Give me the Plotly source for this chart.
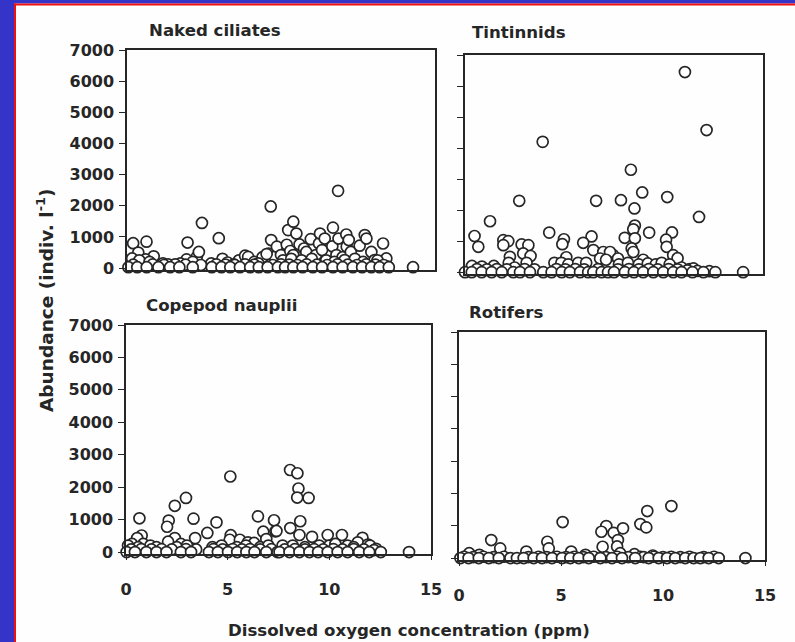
import plotly.graph_objects as go

# ---------------- data (dissolved oxygen ppm, abundance indiv. l-1) ----------------
panel_titles = ["Naked ciliates", "Tintinnids", "Copepod nauplii", "Rotifers"]
x_ticks = [0, 5, 10, 15]
y_ticks = [0, 1000, 2000, 3000, 4000, 5000, 6000, 7000]
x_axis_title = "Dissolved oxygen concentration (ppm)"
y_axis_title = "Abundance (indiv. l<sup>-1</sup>)"

naked_x = [0.3, 0.95, 0.55, 0.25, 1.3, 0.9, 1.75, 2.25, 2.95, 2.9, 3.4, 3.5, 3.65, 4.47, 4.65, 5.45, 5.75, 5.9,
           6.6, 6.9, 7.0, 7.02, 7.2, 6.8, 7.3, 7.5, 7.78, 7.85, 8.1, 8.25, 7.95, 8.1, 8.4, 8.62, 8.73, 8.95, 9.2,
           9.35, 9.4, 9.5, 9.63, 10.0, 10.03, 10.2, 10.28, 10.3, 10.5, 10.68, 10.7, 10.8, 10.9, 11.33, 11.58,
           11.66, 11.9, 12.06, 12.47, 12.63, 12.7, 13.93,
           0.6, 1.1, 2.0, 2.6, 3.2, 4.1, 4.9, 5.2, 6.2, 6.4, 7.6, 8.0, 8.5, 9.0, 9.7, 10.1, 10.6, 11.1, 11.5, 12.2,
           0.3, 1.25, 1.8, 2.35, 2.85, 3.6, 4.35, 4.8, 5.25, 5.75, 6.2, 7.1, 7.5, 7.9, 8.3, 8.75, 9.25, 9.75,
           10.25, 10.75, 11.2, 11.65, 12.1, 12.5,
           0.07, 0.5, 0.96, 1.53, 2.1, 2.55, 3.2, 4.13, 4.6, 5.03, 5.5, 6.0, 6.42, 6.85, 7.35, 7.7, 8.1, 8.55,
           9.05, 9.5, 10.03, 10.5, 11.0, 11.45, 11.9, 12.3, 12.75]
naked_y = [800, 850, 500, 310, 380, 280, 150, 100, 820, 280, 360, 520, 1450, 960, 300, 250, 400, 360,
           350, 470, 1980, 900, 360, 450, 690, 420, 750, 1220, 1490, 1110, 550, 420, 760, 630, 520, 930, 420,
           790, 1110, 580, 950, 700, 1300, 420, 2480, 950, 350, 1080, 690, 900, 520, 720, 1060,
           950, 520, 260, 790, 310, 50, 30,
           250, 200, 120, 150, 200, 150, 180, 120, 200, 150, 250, 300, 250, 300, 250, 200, 260, 300, 200, 250,
           110, 120, 100, 120, 110, 100, 120, 110, 100, 120, 110, 100, 120, 110, 100, 120, 110, 100,
           120, 110, 100, 120, 110, 100,
           30, 30, 30, 30, 30, 30, 30, 30, 30, 30, 30, 30, 30, 30, 30, 30, 30, 30,
           30, 30, 30, 30, 30, 30, 30, 30, 30]

tintinnid_x = [11.07, 12.16, 3.91, 8.35, 8.92, 2.73, 6.6, 7.85, 10.18, 8.53, 11.78, 1.26, 8.55, 8.47, 9.27, 4.24,
               10.42, 8.04, 8.55, 6.37, 4.98, 4.9, 5.95, 10.12, 10.15, 0.48, 0.67, 1.93, 2.18, 1.93, 2.85, 3.19,
               6.46, 6.96, 8.39, 8.47, 10.48, 10.7, 7.46, 7.3, 7.7, 8.97, 2.26, 2.93, 3.3, 5.1, 6.8, 7.1,
               0.35, 0.85, 1.45, 2.2, 2.5, 3.1, 4.5, 4.85, 5.2, 5.7, 6.1, 7.75, 8.2, 8.75, 9.2, 9.6, 9.9, 10.3,
               10.9, 11.3, 11.5,
               0.6, 1.1, 1.6, 2.1, 3.0, 3.5, 4.6, 5.05, 5.55, 6.0, 6.7, 7.7, 8.25, 8.75, 9.25, 9.7, 10.25, 10.7,
               11.2, 11.7, 12.3,
               0.0, 0.34, 0.84, 1.34, 1.85, 2.43, 2.77, 3.27, 3.94, 4.36, 4.87, 5.28, 5.79, 6.2, 6.46, 6.88, 7.2,
               7.5, 8.05, 8.5, 8.97, 9.48, 9.98, 10.48, 10.9, 11.45, 12.0, 12.6, 14.0]
tintinnid_y = [6450, 4580, 4200, 3300, 2570, 2300, 2300, 2320, 2420, 2054, 1780, 1640, 1500, 1380, 1275, 1275,
               1280, 1107, 1090, 1150, 1060, 900, 946, 1045, 817, 1165, 817, 1032, 1000, 870, 893, 870,
               710, 650, 763, 650, 548, 450, 548, 650, 440, 400, 495, 602, 520, 480, 440, 400,
               200, 180, 200, 300, 150, 300, 300, 300, 250, 300, 300, 250, 300, 250, 280, 250, 300, 250,
               150, 100, 120,
               100, 90, 100, 90, 100, 90, 100, 90, 100, 90, 100, 90, 100, 90, 100, 90, 100, 90,
               60, 40, 30,
               0, 0, 0, 0, 0, 0, 0, 0, 0, 0, 0, 0, 0, 0, 0, 0, 0,
               0, 0, 0, 0, 0, 0, 0, 0, 0, 0, 0, 0]

copepod_x = [5.13, 8.07, 8.43, 8.48, 8.42, 8.98, 8.57, 2.95, 2.4, 0.66, 2.1, 2.02, 3.32, 4.45, 4.0, 3.4, 6.49,
             7.28, 7.35, 6.75, 8.08, 6.9, 5.15, 5.1, 5.6, 6.0, 0.77, 0.55, 0.3, 0.85, 1.2, 2.4, 2.07, 2.7, 9.15,
             8.53, 9.92, 10.62, 11.63, 11.4, 11.9, 6.3, 7.4,
             0.1, 0.6, 1.5, 2.5, 3.0, 4.25, 4.7, 5.45, 5.9, 6.6, 7.0, 7.7, 8.2, 8.8, 9.5, 10.0, 10.3, 10.9, 11.2,
             12.0, 12.3,
             0.25, 0.75, 1.25, 1.75, 2.25, 2.95, 3.45, 4.3, 4.75, 5.25, 5.7, 6.1, 6.6, 7.15, 7.8, 8.3, 8.8, 9.25,
             9.7, 10.2, 10.65, 11.2, 11.7, 12.2,
             0.03, 0.44, 1.0, 1.5, 1.99, 2.7, 3.2, 4.08, 4.52, 5.02, 5.47, 5.92, 6.32, 6.9, 7.45, 7.55, 8.04,
             8.53, 9.02, 9.45, 9.92, 10.41, 10.9, 11.47, 11.96, 12.53, 13.92]
copepod_y = [2330, 2530, 2430, 1960, 1680, 1670, 950, 1670, 1425, 1040, 970, 780, 1030, 916, 590, 430, 1100,
             980, 640, 627, 740, 400, 520, 380, 380, 300, 510, 430, 250, 250, 200, 430, 320, 250, 470,
             525, 525, 525, 440, 300, 230, 280, 650,
             200, 150, 150, 150, 200, 150, 200, 150, 200, 150, 200, 200, 200, 150, 200, 200, 250, 200, 150,
             200, 100,
             80, 90, 80, 90, 80, 90, 80, 90, 80, 90, 80, 90, 80, 90, 80, 90, 80, 90,
             80, 90, 80, 90, 80, 60,
             0, 0, 0, 0, 0, 0, 0, 0, 0, 0, 0, 0, 0, 0, 0, 0, 0,
             0, 0, 0, 0, 0, 0, 0, 0, 0, 0]

rotifer_x = [10.41, 9.23, 8.89, 9.18, 5.08, 7.22, 6.98, 7.58, 8.04, 7.79, 7.04, 7.75, 1.58, 2.02, 4.33, 4.4,
             3.3, 5.5, 7.9, 8.6, 6.2, 1.0, 9.5, 0.5,
             0.25, 0.7, 1.2, 1.7, 2.2, 3.4, 3.9, 4.3, 4.8, 5.25, 5.65, 6.1, 6.6, 7.2, 7.75, 8.3, 8.9, 9.05,
             9.55, 10.0, 10.4, 10.85, 11.3, 12.0, 12.5,
             0.07, 0.47, 0.97, 1.46, 1.95, 2.52, 2.84, 3.17, 3.66, 4.07, 4.56, 5.05, 5.46, 5.87, 6.36, 6.93, 7.5,
             7.99, 8.64, 9.3, 9.79, 10.2, 10.6, 11.09, 11.5, 11.83, 12.24, 12.73, 14.04]
rotifer_y = [1610, 1455, 1053, 950, 1115, 991, 814, 783, 920, 557, 350, 360, 557, 300, 505, 300,
             200, 200, 150, 120, 100, 100, 80, 150,
             40, 30, 40, 30, 40, 30, 40, 30, 40, 30, 40, 30, 40, 30, 40, 30, 40, 30,
             40, 30, 40, 30, 40, 30, 40,
             0, 0, 0, 0, 0, 0, 0, 0, 0, 0, 0, 0, 0, 0, 0, 0, 0,
             0, 0, 0, 0, 0, 0, 0, 0, 0, 0, 0, 0]

# ---------------- layout geometry (pixels) ----------------
W, H = 795, 642
FONT = "DejaVu Sans"
INK = "#262626"


def fx(px):
    return px / W


def fy(py):
    return 1 - py / H


# (left, right, top, bottom) in pixels for each panel
boxes = [
    (127, 435, 50, 270),
    (465, 763, 55, 274),
    (126, 431, 325, 554),
    (459, 765, 332, 560),
]
series = [(naked_x, naked_y), (tintinnid_x, tintinnid_y), (copepod_x, copepod_y), (rotifer_x, rotifer_y)]

fig = go.Figure()
layout = dict(
    width=W, height=H, margin=dict(l=0, r=0, t=0, b=0, pad=0, autoexpand=False), autosize=False,
    paper_bgcolor="#fefefe", plot_bgcolor="rgba(0,0,0,0)", showlegend=False,
    font=dict(family=FONT, size=16, color=INK, weight="bold"),
)

for i, ((l, r, t, b), (xs, ys)) in enumerate(zip(boxes, series)):
    n = "" if i == 0 else str(i + 1)
    fig.add_trace(go.Scatter(
        x=xs, y=ys, mode="markers", xaxis="x" + n, yaxis="y" + n, cliponaxis=False,
        marker=dict(symbol="circle", size=11, color="white", line=dict(color=INK, width=1.7)),
        hoverinfo="x+y",
    ))
    bottom_row = i >= 2
    left_col = i % 2 == 0
    layout["xaxis" + n] = dict(
        domain=[fx(l), fx(r)], range=[0, 15], anchor="y" + n, automargin=False,
        showline=True, linecolor=INK, linewidth=1.5, mirror=True,
        showgrid=False, zeroline=False,
        tickvals=x_ticks, ticks="outside" if bottom_row else "", ticklen=4, tickcolor=INK,
        showticklabels=bottom_row, ticklabelstandoff=16,
        tickfont=dict(family=FONT, size=16, color=INK, weight="bold"),
    )
    layout["yaxis" + n] = dict(
        domain=[fy(b), fy(t)], range=[-60, 7000], anchor="x" + n, automargin=False,
        showline=True, linecolor=INK, linewidth=1.5, mirror=True,
        showgrid=False, zeroline=False,
        tickvals=y_ticks, ticks="outside", ticklen=6, tickcolor=INK, tickwidth=1.3,
        showticklabels=left_col, ticklabelstandoff=2,
        tickfont=dict(family=FONT, size=16, color=INK, weight="bold"),
    )

fig.update_layout(**layout)

title_pos = [(147, 30), (470, 33), (144, 306), (467, 312)]
for (px, py), txt in zip(title_pos, panel_titles):
    fig.add_annotation(x=fx(px), y=fy(py), xref="paper", yref="paper", text=txt, showarrow=False,
                       xanchor="left", yanchor="middle",
                       font=dict(family=FONT, size=16.6, color=INK, weight="bold"))

fig.add_annotation(x=fx(409), y=fy(630), xref="paper", yref="paper", text=x_axis_title, showarrow=False,
                   xanchor="center", yanchor="middle", font=dict(family=FONT, size=16.6, color=INK, weight="bold"))
fig.add_annotation(x=fx(45), y=fy(300), xref="paper", yref="paper", text=y_axis_title, showarrow=False,
                   textangle=-90, xanchor="center", yanchor="middle",
                   font=dict(family=FONT, size=18.5, color=INK, weight="bold"))

# slide frame: blue band with red edge at left and top
BLUE = "#3434c9"
RED = "#f01010"
fig.add_shape(type="rect", xref="paper", yref="paper", x0=-0.05, x1=fx(14), y0=-0.05, y1=1.05,
              fillcolor=BLUE, line_width=0, layer="above")
fig.add_shape(type="rect", xref="paper", yref="paper", x0=-0.05, x1=1.05, y0=fy(3.5), y1=1.05,
              fillcolor=BLUE, line_width=0, layer="above")
fig.add_shape(type="rect", xref="paper", yref="paper", x0=fx(14), x1=fx(16), y0=-0.05, y1=fy(3.5),
              fillcolor=RED, line_width=0, layer="above")
fig.add_shape(type="rect", xref="paper", yref="paper", x0=fx(14), x1=1.05, y0=fy(5.5), y1=fy(3.5),
              fillcolor=RED, line_width=0, layer="above")

page_fix = (
    "var s=document.documentElement.style;s.margin='0';s.padding='0';s.overflow='hidden';"
    "var b=document.body.style;b.margin='0';b.padding='0';b.overflow='hidden';b.background='#fefefe';"
    "var g=document.getElementById('{plot_id}');"
    "if(g){g.style.position='fixed';g.style.left='0px';g.style.top='0px';}"
)

fig.write_html(
    "out.html",
    config={"displayModeBar": False, "responsive": False},
    post_script=page_fix,
)
